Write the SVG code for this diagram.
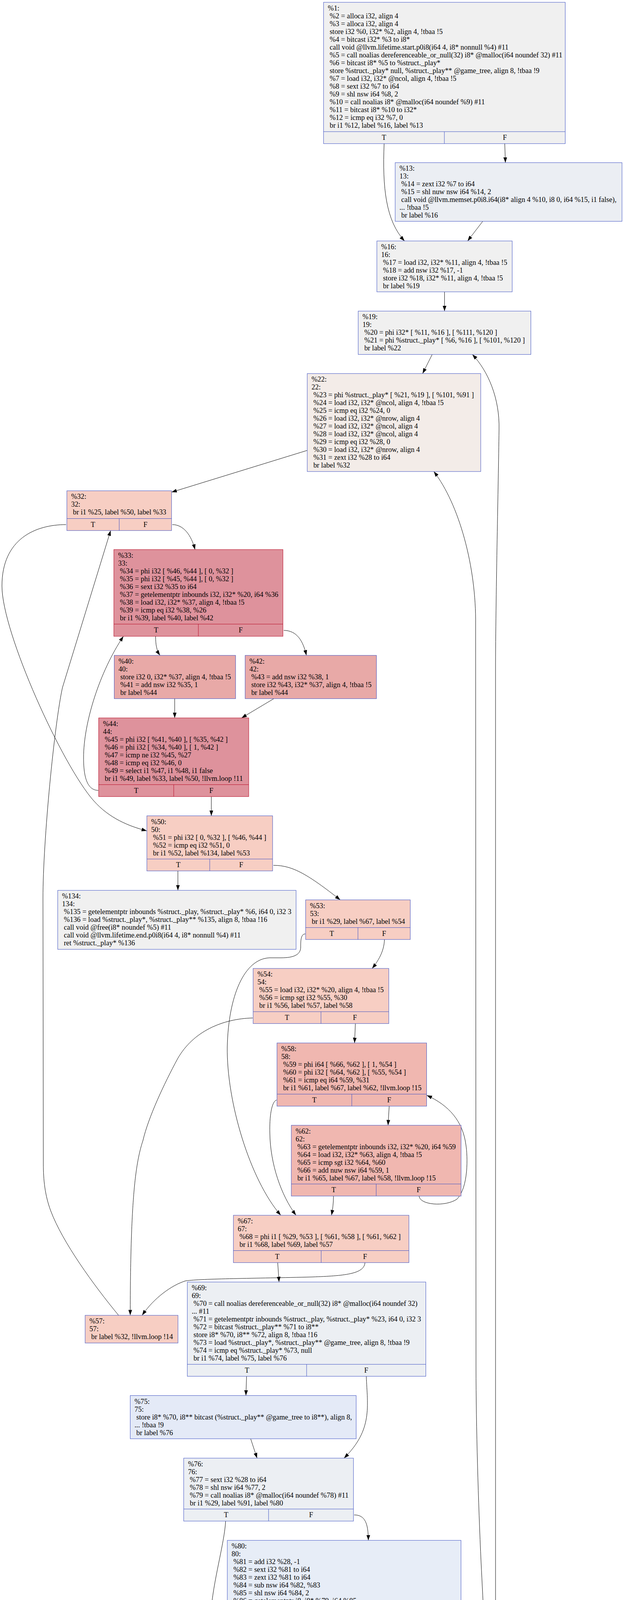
<svg xmlns="http://www.w3.org/2000/svg" width="1598" height="6364" viewBox="0 0 1598 6364">
<style>
text{font-family:"Liberation Serif","Times New Roman",serif;font-size:18.4px;fill:#000}
.c{text-anchor:middle}
.b{stroke:#3d50c3;stroke-width:1;fill:none}
.r{stroke:#b70d28;stroke-width:1;fill:none}
.e{fill:none;stroke:#000;stroke-width:1;marker-end:url(#ah)}
</style>
<defs>
<marker id="ah" markerUnits="userSpaceOnUse" markerWidth="14" markerHeight="10" viewBox="0 0 14 10" refX="13.5" refY="5" orient="auto"><path d="M0,0.3 L13.5,5 L0,9.7 z" fill="#000"/></marker>
</defs>
<rect x="0" y="0" width="1598" height="6364" fill="#fff"/>

<g id="edges">
<path class="e" d="M983.7,368 C979,480 988,565 1036,616.9"/>
<path class="e" d="M1292.6,368 L1294.3,416.4"/>
<path class="e" d="M1236.2,566.6 L1197.5,616.9"/>
<path class="e" d="M1138.4,747.1 L1138.4,796.4"/>
<path class="e" d="M1106.8,907.4 L1082.3,956.3"/>
<path class="e" d="M786.8,1153 L439.3,1260"/>
<path class="e" d="M169.2,1343 C90,1343 5,1380 5,1500 C5,1620 160,1960 240,2050 C280,2095 330,2115 376,2127"/>
<path class="e" d="M441.3,1343 C470,1343 490,1370 499.4,1406.9"/>
<path class="e" d="M398.5,1628.9 C398.5,1650 401,1665 409.7,1677.8"/>
<path class="e" d="M726.7,1613.8 C760,1614 776,1640 784.7,1677.8"/>
<path class="e" d="M447.4,1788.6 L447.4,1837.9"/>
<path class="e" d="M701.2,1788.6 L618.6,1837.9"/>
<path class="e" d="M251.7,2023.4 C228,2023 214,2000 214,1940 C214,1850 255,1720 316,1628.9"/>
<path class="e" d="M541.2,2039.2 L541.2,2088.5"/>
<path class="e" d="M455.6,2229.6 L455.6,2279.3"/>
<path class="e" d="M700.2,2215.3 C750,2215 790,2240 871.4,2303.7"/>
<path class="e" d="M781.7,2390.8 C770,2391 770,2410 770,2425 C770,2445 750,2452 720,2452 L690,2452 C625,2455 585,2550 582,2680 C580,2820 640,3020 719,3111.1"/>
<path class="e" d="M984.5,2405.1 C984,2430 973,2455 952.9,2479.2"/>
<path class="e" d="M647.2,2606 C570,2608 495,2640 455,2710 C420,2775 380,2860 366,2920 C346,2980 334,3080 333.5,3367"/>
<path class="e" d="M910.1,2620.3 L908,2670"/>
<path class="e" d="M708.3,2816 C695,2820 690,2860 691,2900 C692,2980 720,3060 758,3111.1"/>
<path class="e" d="M996.7,2831.8 L993.7,2880.7"/>
<path class="e" d="M854,3061.9 C854,3080 852,3095 849,3111.1"/>
<path class="e" d="M1073.2,3061.9 C1075,3085 1140,3090 1170,3070 C1200,3040 1198,2960 1193,2930 C1185,2870 1150,2830 1093,2804"/>
<path class="e" d="M711.2,3232.3 L714.6,3282"/>
<path class="e" d="M934.6,3232.3 C933,3262 880,3266 800,3269 C650,3273 520,3273 475,3279 C440,3290 395,3322 364,3367"/>
<path class="e" d="M303.5,3367 C240,3290 160,3180 130,3100 C115,3060 111,3020 111,2980 L110,2300 C110,2150 140,1850 160,1760 L283.3,1358.2"/>
<path class="e" d="M631.5,3523.3 L629.7,3572.6"/>
<path class="e" d="M938,3523.3 C941,3600 955,3660 881,3732.9"/>
<path class="e" d="M641.9,3683.2 L658.3,3732.9"/>
<path class="e" d="M577.8,3894 C575,3950 545,4050 540,4130 C537,4200 560,4260 593.4,4303.1"/>
<path class="e" d="M906.9,3878.2 C935,3878 943,3900 943.3,3943.3"/>
<path class="e" d="M883.5,4253.8 L883.5,4303.1"/>
<path class="e" d="M732.8,4744.7 L732.8,4793.6"/>
<path class="e" d="M1199.6,4729 C1225,4722 1236,4690 1240,4650 C1247,4560 1250,4450 1248,4380 C1245,4250 1237,4100 1232,4000 C1225,3850 1219,3650 1219,3500 L1218,1600 C1220,1450 1175,1290 1111,1207.1"/>
<path class="e" d="M625.4,5075.4 C624,5150 600,5300 598,5400 C596,5500 630,5600 684.3,5655.1"/>
<path class="e" d="M851.5,5075.4 C852,5095 854,5110 857,5124.7"/>
<path class="e" d="M880.9,5215 L885.2,5264.7"/>
<path class="e" d="M783,5465.7 L783.9,5515.2"/>
<path class="e" d="M1043.7,5465.7 C1060,5485 1110,5495 1135,5470 C1155,5440 1150,5390 1130,5358"/>
<path class="e" d="M788.2,5606.1 L788.2,5655.1"/>
<path class="e" d="M697.3,5796.2 C697,5900 675,6000 675,6060 C675,6150 720,6210 768.3,6256.8"/>
<path class="e" d="M878.3,5796.2 C878.3,5815 880,5830 887.8,5845.7"/>
<path class="e" d="M933.7,5956.8 L944.1,6005.7"/>
<path class="e" d="M850.6,6207.2 L850.6,6256.8"/>
<path class="e" d="M1114.8,6207.2 C1135,6228 1190,6232 1212,6200 C1228,6170 1220,6130 1197.1,6103.2"/>
<path class="e" d="M970.1,6279.5 C1070,6265 1190,6240 1255,6170 C1290,6120 1285,6040 1280,5980 C1275,5900 1269,5850 1269,5800 L1269,1700 C1270,1500 1276,1250 1278,1100 C1280,1020 1250,950 1209.7,907.4"/>
</g>

<g id="n1">
<rect class="b" x="828.6" y="5.9" width="618.9" height="361.8" style="fill:#f0f0f0"/>
<path class="b" d="M828.6,337 H1447.5 M1138,337 V367.7"/>
<text><tspan x="839.6" y="26.9">%1:</tspan><tspan x="844.2" y="46.9">%2 = alloca i32, align 4</tspan><tspan x="844.2" y="66.9">%3 = alloca i32, align 4</tspan><tspan x="844.2" y="86.9">store i32 %0, i32* %2, align 4, !tbaa !5</tspan><tspan x="844.2" y="106.9">%4 = bitcast i32* %3 to i8*</tspan><tspan x="844.2" y="126.9">call void @llvm.lifetime.start.p0i8(i64 4, i8* nonnull %4) #11</tspan><tspan x="844.2" y="146.9">%5 = call noalias dereferenceable_or_null(32) i8* @malloc(i64 noundef 32) #11</tspan><tspan x="844.2" y="166.9">%6 = bitcast i8* %5 to %struct._play*</tspan><tspan x="844.2" y="186.9">store %struct._play* null, %struct._play** @game_tree, align 8, !tbaa !9</tspan><tspan x="844.2" y="206.9">%7 = load i32, i32* @ncol, align 4, !tbaa !5</tspan><tspan x="844.2" y="226.9">%8 = sext i32 %7 to i64</tspan><tspan x="844.2" y="246.9">%9 = shl nsw i64 %8, 2</tspan><tspan x="844.2" y="266.9">%10 = call noalias i8* @malloc(i64 noundef %9) #11</tspan><tspan x="844.2" y="286.9">%11 = bitcast i8* %10 to i32*</tspan><tspan x="844.2" y="306.9">%12 = icmp eq i32 %7, 0</tspan><tspan x="844.2" y="326.9">br i1 %12, label %16, label %13</tspan></text>
<text class="c" x="983.3" y="358">T</text><text class="c" x="1292.8" y="358">F</text>
</g>

<g id="n13">
<rect class="b" x="1012" y="416.4" width="580.9" height="150.2" style="fill:#ebeef3"/>
<text><tspan x="1023" y="437.4">%13:</tspan><tspan x="1023" y="457.4">13:</tspan><tspan x="1027.6" y="477.4">%14 = zext i32 %7 to i64</tspan><tspan x="1027.6" y="497.4">%15 = shl nuw nsw i64 %14, 2</tspan><tspan x="1027.6" y="517.4">call void @llvm.memset.p0i8.i64(i8* align 4 %10, i8 0, i64 %15, i1 false),</tspan><tspan x="1023" y="537.4">... !tbaa !5</tspan><tspan x="1027.6" y="557.4">br label %16</tspan></text>
</g>

<g id="n16">
<rect class="b" x="965.1" y="616.9" width="346.6" height="130.2" style="fill:#f0f0f0"/>
<text><tspan x="976.1" y="637.9">%16:</tspan><tspan x="976.1" y="657.9">16:</tspan><tspan x="980.7" y="677.9">%17 = load i32, i32* %11, align 4, !tbaa !5</tspan><tspan x="980.7" y="697.9">%18 = add nsw i32 %17, -1</tspan><tspan x="980.7" y="717.9">store i32 %18, i32* %11, align 4, !tbaa !5</tspan><tspan x="980.7" y="737.9">br label %19</tspan></text>
</g>

<g id="n19">
<rect class="b" x="917.3" y="796.4" width="442.2" height="111" style="fill:#f0f0f0"/>
<text><tspan x="928.3" y="817.4">%19:</tspan><tspan x="928.3" y="837.4">19:</tspan><tspan x="932.9" y="857.4">%20 = phi i32* [ %11, %16 ], [ %111, %120 ]</tspan><tspan x="932.9" y="877.4">%21 = phi %struct._play* [ %6, %16 ], [ %101, %120 ]</tspan><tspan x="932.9" y="897.4">br label %22</tspan></text>
</g>

<g id="n22">
<rect class="b" x="786.8" y="956.3" width="444.3" height="250.8" style="fill:#f3ece8"/>
<text><tspan x="797.8" y="977.3">%22:</tspan><tspan x="797.8" y="997.3">22:</tspan><tspan x="802.4" y="1017.3">%23 = phi %struct._play* [ %21, %19 ], [ %101, %91 ]</tspan><tspan x="802.4" y="1037.3">%24 = load i32, i32* @ncol, align 4, !tbaa !5</tspan><tspan x="802.4" y="1057.3">%25 = icmp eq i32 %24, 0</tspan><tspan x="802.4" y="1077.3">%26 = load i32, i32* @nrow, align 4</tspan><tspan x="802.4" y="1097.3">%27 = load i32, i32* @ncol, align 4</tspan><tspan x="802.4" y="1117.3">%28 = load i32, i32* @ncol, align 4</tspan><tspan x="802.4" y="1137.3">%29 = icmp eq i32 %28, 0</tspan><tspan x="802.4" y="1157.3">%30 = load i32, i32* @nrow, align 4</tspan><tspan x="802.4" y="1177.3">%31 = zext i32 %28 to i64</tspan><tspan x="802.4" y="1197.3">br label %32</tspan></text>
</g>

<g id="n32">
<rect class="b" x="171.2" y="1256.4" width="268.1" height="101.8" style="fill:#f7cec3"/>
<path class="b" d="M171.2,1327.5 H439.3 M305.3,1327.5 V1358.2"/>
<text><tspan x="182.2" y="1277.4">%32:</tspan><tspan x="182.2" y="1297.4">32:</tspan><tspan x="186.8" y="1317.4">br i1 %25, label %50, label %33</tspan></text>
<text class="c" x="238.2" y="1348.5">T</text><text class="c" x="372.3" y="1348.5">F</text>
</g>

<g id="n33">
<rect class="r" x="291.5" y="1406.9" width="433.1" height="222" style="fill:#de929c"/>
<path class="r" d="M291.5,1597.7 H724.6 M508,1597.7 V1628.9"/>
<text><tspan x="302.5" y="1427.9">%33:</tspan><tspan x="302.5" y="1447.9">33:</tspan><tspan x="307.1" y="1467.9">%34 = phi i32 [ %46, %44 ], [ 0, %32 ]</tspan><tspan x="307.1" y="1487.9">%35 = phi i32 [ %45, %44 ], [ 0, %32 ]</tspan><tspan x="307.1" y="1507.9">%36 = sext i32 %35 to i64</tspan><tspan x="307.1" y="1527.9">%37 = getelementptr inbounds i32, i32* %20, i64 %36</tspan><tspan x="307.1" y="1547.9">%38 = load i32, i32* %37, align 4, !tbaa !5</tspan><tspan x="307.1" y="1567.9">%39 = icmp eq i32 %38, %26</tspan><tspan x="307.1" y="1587.9">br i1 %39, label %40, label %42</tspan></text>
<text class="c" x="399.8" y="1618.7">T</text><text class="c" x="616.3" y="1618.7">F</text>
</g>

<g id="n40">
<rect class="b" x="292.5" y="1677.8" width="310.8" height="110.8" style="fill:#e8a9a7"/>
<text><tspan x="303.5" y="1698.8">%40:</tspan><tspan x="303.5" y="1718.8">40:</tspan><tspan x="308.1" y="1738.8">store i32 0, i32* %37, align 4, !tbaa !5</tspan><tspan x="308.1" y="1758.8">%41 = add nsw i32 %35, 1</tspan><tspan x="308.1" y="1778.8">br label %44</tspan></text>
</g>

<g id="n42">
<rect class="b" x="627.8" y="1677.8" width="336.3" height="110.8" style="fill:#e8a9a7"/>
<text><tspan x="638.8" y="1698.8">%42:</tspan><tspan x="638.8" y="1718.8">42:</tspan><tspan x="643.4" y="1738.8">%43 = add nsw i32 %38, 1</tspan><tspan x="643.4" y="1758.8">store i32 %43, i32* %37, align 4, !tbaa !5</tspan><tspan x="643.4" y="1778.8">br label %44</tspan></text>
</g>

<g id="n44">
<rect class="r" x="252.7" y="1837.9" width="384.3" height="201.3" style="fill:#de929c"/>
<path class="r" d="M252.7,2008.7 H637 M444.9,2008.7 V2039.2"/>
<text><tspan x="263.7" y="1858.9">%44:</tspan><tspan x="263.7" y="1878.9">44:</tspan><tspan x="268.3" y="1898.9">%45 = phi i32 [ %41, %40 ], [ %35, %42 ]</tspan><tspan x="268.3" y="1918.9">%46 = phi i32 [ %34, %40 ], [ 1, %42 ]</tspan><tspan x="268.3" y="1938.9">%47 = icmp ne i32 %45, %27</tspan><tspan x="268.3" y="1958.9">%48 = icmp eq i32 %46, 0</tspan><tspan x="268.3" y="1978.9">%49 = select i1 %47, i1 %48, i1 false</tspan><tspan x="268.3" y="1998.9">br i1 %49, label %33, label %50, !llvm.loop !11</tspan></text>
<text class="c" x="348.8" y="2029.7">T</text><text class="c" x="541" y="2029.7">F</text>
</g>

<g id="n50">
<rect class="b" x="376.1" y="2088.5" width="322" height="141.1" style="fill:#f7cec3"/>
<path class="b" d="M376.1,2199.1 H698.1 M537.1,2199.1 V2229.6"/>
<text><tspan x="387.1" y="2109.5">%50:</tspan><tspan x="387.1" y="2129.5">50:</tspan><tspan x="391.7" y="2149.5">%51 = phi i32 [ 0, %32 ], [ %46, %44 ]</tspan><tspan x="391.7" y="2169.5">%52 = icmp eq i32 %51, 0</tspan><tspan x="391.7" y="2189.5">br i1 %52, label %134, label %53</tspan></text>
<text class="c" x="456.6" y="2220.1">T</text><text class="c" x="617.6" y="2220.1">F</text>
</g>

<g id="n134">
<rect class="b" x="147.8" y="2279.3" width="610.4" height="151" style="fill:#f0f0f0"/>
<text><tspan x="158.8" y="2300.3">%134:</tspan><tspan x="158.8" y="2320.3">134:</tspan><tspan x="163.4" y="2340.3">%135 = getelementptr inbounds %struct._play, %struct._play* %6, i64 0, i32 3</tspan><tspan x="163.4" y="2360.3">%136 = load %struct._play*, %struct._play** %135, align 8, !tbaa !16</tspan><tspan x="163.4" y="2380.3">call void @free(i8* noundef %5) #11</tspan><tspan x="163.4" y="2400.3">call void @llvm.lifetime.end.p0i8(i64 4, i8* nonnull %4) #11</tspan><tspan x="163.4" y="2420.3">ret %struct._play* %136</tspan></text>
</g>

<g id="n53">
<rect class="b" x="782.7" y="2303.7" width="268" height="101.4" style="fill:#f7cec3"/>
<path class="b" d="M782.7,2374.6 H1050.7 M916.7,2374.6 V2405.1"/>
<text><tspan x="793.7" y="2324.7">%53:</tspan><tspan x="793.7" y="2344.7">53:</tspan><tspan x="798.3" y="2364.7">br i1 %29, label %67, label %54</tspan></text>
<text class="c" x="849.7" y="2395.6">T</text><text class="c" x="983.7" y="2395.6">F</text>
</g>

<g id="n54">
<rect class="b" x="648.2" y="2479.2" width="347.5" height="141.1" style="fill:#f7cec3"/>
<path class="b" d="M648.2,2589.9 H995.7 M822,2589.9 V2620.3"/>
<text><tspan x="659.2" y="2500.2">%54:</tspan><tspan x="659.2" y="2520.2">54:</tspan><tspan x="663.8" y="2540.2">%55 = load i32, i32* %20, align 4, !tbaa !5</tspan><tspan x="663.8" y="2560.2">%56 = icmp sgt i32 %55, %30</tspan><tspan x="663.8" y="2580.2">br i1 %56, label %57, label %58</tspan></text>
<text class="c" x="735.1" y="2610.9">T</text><text class="c" x="908.9" y="2610.9">F</text>
</g>

<g id="n58">
<rect class="b" x="709.3" y="2670" width="383.2" height="161.8" style="fill:#f0b7b0"/>
<path class="b" d="M709.3,2801 H1092.5 M900.9,2801 V2831.8"/>
<text><tspan x="720.3" y="2691">%58:</tspan><tspan x="720.3" y="2711">58:</tspan><tspan x="724.9" y="2731">%59 = phi i64 [ %66, %62 ], [ 1, %54 ]</tspan><tspan x="724.9" y="2751">%60 = phi i32 [ %64, %62 ], [ %55, %54 ]</tspan><tspan x="724.9" y="2771">%61 = icmp eq i64 %59, %31</tspan><tspan x="724.9" y="2791">br i1 %61, label %67, label %62, !llvm.loop !15</tspan></text>
<text class="c" x="805.1" y="2822">T</text><text class="c" x="996.7" y="2822">F</text>
</g>

<g id="n62">
<rect class="b" x="746" y="2880.7" width="434.8" height="181.2" style="fill:#f0b7b0"/>
<path class="b" d="M746,3031 H1180.8 M963.4,3031 V3061.9"/>
<text><tspan x="757" y="2901.7">%62:</tspan><tspan x="757" y="2921.7">62:</tspan><tspan x="761.6" y="2941.7">%63 = getelementptr inbounds i32, i32* %20, i64 %59</tspan><tspan x="761.6" y="2961.7">%64 = load i32, i32* %63, align 4, !tbaa !5</tspan><tspan x="761.6" y="2981.7">%65 = icmp sgt i32 %64, %60</tspan><tspan x="761.6" y="3001.7">%66 = add nuw nsw i64 %59, 1</tspan><tspan x="761.6" y="3021.7">br i1 %65, label %67, label %58, !llvm.loop !15</tspan></text>
<text class="c" x="854.7" y="3052">T</text><text class="c" x="1072.1" y="3052">F</text>
</g>

<g id="n67">
<rect class="b" x="597.7" y="3111.1" width="449.5" height="121.2" style="fill:#f7cec3"/>
<path class="b" d="M597.7,3201.5 H1047.2 M822.5,3201.5 V3232.3"/>
<text><tspan x="608.7" y="3132.1">%67:</tspan><tspan x="608.7" y="3152.1">67:</tspan><tspan x="613.3" y="3172.1">%68 = phi i1 [ %29, %53 ], [ %61, %58 ], [ %61, %62 ]</tspan><tspan x="613.3" y="3192.1">br i1 %68, label %69, label %57</tspan></text>
<text class="c" x="710.1" y="3222.5">T</text><text class="c" x="934.9" y="3222.5">F</text>
</g>

<g id="n57">
<rect class="b" x="218" y="3367.2" width="237.8" height="70.9" style="fill:#f7cec3"/>
<text><tspan x="229" y="3388.2">%57:</tspan><tspan x="229" y="3408.2">57:</tspan><tspan x="233.6" y="3428.2">br label %32, !llvm.loop !14</tspan></text>
</g>

<g id="n69">
<rect class="b" x="479.7" y="3282" width="610.8" height="241.3" style="fill:#eceff3"/>
<path class="b" d="M479.7,3492.7 H1090.5 M785.2,3492.7 V3523.3"/>
<text><tspan x="490.9" y="3303">%69:</tspan><tspan x="490.9" y="3323">69:</tspan><tspan x="495.5" y="3343">%70 = call noalias dereferenceable_or_null(32) i8* @malloc(i64 noundef 32)</tspan><tspan x="490.9" y="3363">... #11</tspan><tspan x="495.5" y="3383">%71 = getelementptr inbounds %struct._play, %struct._play* %23, i64 0, i32 3</tspan><tspan x="495.5" y="3403">%72 = bitcast %struct._play** %71 to i8**</tspan><tspan x="495.5" y="3423">store i8* %70, i8** %72, align 8, !tbaa !16</tspan><tspan x="495.5" y="3443">%73 = load %struct._play*, %struct._play** @game_tree, align 8, !tbaa !9</tspan><tspan x="495.5" y="3463">%74 = icmp eq %struct._play* %73, null</tspan><tspan x="495.5" y="3483">br i1 %74, label %75, label %76</tspan></text>
<text class="c" x="632.6" y="3513.7">T</text><text class="c" x="937.9" y="3513.7">F</text>
</g>

<g id="n75">
<rect class="b" x="333.5" y="3572.6" width="578.6" height="110.6" style="fill:#e4eaf7"/>
<text><tspan x="344.5" y="3593.6">%75:</tspan><tspan x="344.5" y="3613.6">75:</tspan><tspan x="349.1" y="3633.6">store i8* %70, i8** bitcast (%struct._play** @game_tree to i8**), align 8,</tspan><tspan x="344.5" y="3653.6">... !tbaa !9</tspan><tspan x="349.1" y="3673.6">br label %76</tspan></text>
</g>

<g id="n76">
<rect class="b" x="470.4" y="3732.9" width="434.8" height="161.1" style="fill:#eceff3"/>
<path class="b" d="M470.4,3863.1 H905.2 M687.8,3863.1 V3894"/>
<text><tspan x="481.4" y="3753.9">%76:</tspan><tspan x="481.4" y="3773.9">76:</tspan><tspan x="486" y="3793.9">%77 = sext i32 %28 to i64</tspan><tspan x="486" y="3813.9">%78 = shl nsw i64 %77, 2</tspan><tspan x="486" y="3833.9">%79 = call noalias i8* @malloc(i64 noundef %78) #11</tspan><tspan x="486" y="3853.9">br i1 %29, label %91, label %80</tspan></text>
<text class="c" x="579.1" y="3884.1">T</text><text class="c" x="796.5" y="3884.1">F</text>
</g>

<g id="n80">
<rect class="b" x="582.1" y="3943.3" width="598.5" height="310.5" style="fill:#e7edf7"/>
<text><tspan x="593.1" y="3964.3">%80:</tspan><tspan x="593.1" y="3984.3">80:</tspan><tspan x="597.7" y="4004.3">%81 = add i32 %28, -1</tspan><tspan x="597.7" y="4024.3">%82 = sext i32 %81 to i64</tspan><tspan x="597.7" y="4044.3">%83 = zext i32 %81 to i64</tspan><tspan x="597.7" y="4064.3">%84 = sub nsw i64 %82, %83</tspan><tspan x="597.7" y="4084.3">%85 = shl nsw i64 %84, 2</tspan><tspan x="597.7" y="4104.3">%86 = getelementptr i8, i8* %79, i64 %85</tspan><tspan x="597.7" y="4124.3">%87 = getelementptr i32, i32* %20, i64 %84</tspan><tspan x="597.7" y="4144.3">%88 = bitcast i32* %87 to i8*</tspan><tspan x="597.7" y="4164.3">%89 = zext i32 %28 to i64</tspan><tspan x="597.7" y="4184.3">%90 = shl nuw nsw i64 %89, 2</tspan><tspan x="597.7" y="4204.3">call void @llvm.memcpy.p0i8.p0i8.i64(i8* align 4 %86, i8* align 4 %88, i64</tspan><tspan x="593.1" y="4224.3">... %90, i1 false) #11, !tbaa !5</tspan><tspan x="597.7" y="4244.3">br label %91</tspan></text>
</g>

<g id="n91">
<rect class="b" x="577.8" y="4303.1" width="620.1" height="441.6" style="fill:#ebeef2"/>
<path class="b" d="M577.8,4713.8 H1197.9 M887.9,4713.8 V4744.7"/>
<text><tspan x="588.8" y="4324.1">%91:</tspan><tspan x="588.8" y="4344.1">91:</tspan><tspan x="593.4" y="4364.1">%92 = load %struct._play*, %struct._play** %71, align 8, !tbaa !16</tspan><tspan x="593.4" y="4384.1">%93 = getelementptr inbounds %struct._play, %struct._play* %92, i64 0, i32 1</tspan><tspan x="593.4" y="4404.1">%94 = bitcast i32** %93 to i8**</tspan><tspan x="593.4" y="4424.1">store i8* %79, i8** %94, align 8, !tbaa !18</tspan><tspan x="593.4" y="4444.1">%95 = call %struct._list* @make_list(i32* noundef %20, i32* noundef nonnull</tspan><tspan x="588.8" y="4464.1">... %3, i32* noundef nonnull %2)</tspan><tspan x="593.4" y="4484.1">%96 = load %struct._play*, %struct._play** %71, align 8, !tbaa !16</tspan><tspan x="593.4" y="4504.1">%97 = getelementptr inbounds %struct._play, %struct._play* %96, i64 0, i32 2</tspan><tspan x="593.4" y="4524.1">store %struct._list* %95, %struct._list** %97, align 8, !tbaa !19</tspan><tspan x="593.4" y="4544.1">%98 = load i32, i32* %3, align 4, !tbaa !5</tspan><tspan x="593.4" y="4564.1">%99 = getelementptr inbounds %struct._play, %struct._play* %96, i64 0, i32 0</tspan><tspan x="593.4" y="4584.1">store i32 %98, i32* %99, align 8, !tbaa !20</tspan><tspan x="593.4" y="4604.1">%100 = getelementptr inbounds %struct._play, %struct._play* %96, i64 0, i32 3</tspan><tspan x="593.4" y="4624.1">store %struct._play* null, %struct._play** %100, align 8, !tbaa !16</tspan><tspan x="593.4" y="4644.1">%101 = load %struct._play*, %struct._play** %71, align 8, !tbaa !16</tspan><tspan x="593.4" y="4664.1">%102 = load i32, i32* %2, align 4, !tbaa !5</tspan><tspan x="593.4" y="4684.1">%103 = icmp eq i32 %102, 2</tspan><tspan x="593.4" y="4704.1">br i1 %103, label %104, label %22, !llvm.loop !14</tspan></text>
<text class="c" x="732.8" y="4734.8">T</text><text class="c" x="1042.9" y="4734.8">F</text>
</g>

<g id="n104">
<rect class="b" x="512.8" y="4793.6" width="451.3" height="281.8" style="fill:#c6d6fb"/>
<path class="b" d="M512.8,5044.9 H964.1 M738.5,5044.9 V5075.4"/>
<text><tspan x="523.8" y="4814.6">%104:</tspan><tspan x="523.8" y="4834.6">104:</tspan><tspan x="528.4" y="4854.6">%105 = bitcast i32* %20 to i8*</tspan><tspan x="528.4" y="4874.6">call void @free(i8* noundef %105) #11</tspan><tspan x="528.4" y="4894.6">%106 = load i32, i32* @nrow, align 4, !tbaa !5</tspan><tspan x="528.4" y="4914.6">%107 = load i32, i32* @ncol, align 4, !tbaa !5</tspan><tspan x="528.4" y="4934.6">%108 = sext i32 %107 to i64</tspan><tspan x="528.4" y="4954.6">%109 = shl nsw i64 %108, 2</tspan><tspan x="528.4" y="4974.6">%110 = call noalias i8* @malloc(i64 noundef %109) #11</tspan><tspan x="528.4" y="4994.6">%111 = bitcast i8* %110 to i32*</tspan><tspan x="528.4" y="5014.6">%112 = icmp eq i32 %107, 0</tspan><tspan x="528.4" y="5034.6">br i1 %112, label %117, label %113</tspan></text>
<text class="c" x="625.6" y="5065.9">T</text><text class="c" x="851.3" y="5065.9">F</text>
</g>

<g id="n113">
<rect class="b" x="752.7" y="5124.7" width="243.4" height="90.3" style="fill:#c1d2f8"/>
<text><tspan x="763.7" y="5145.7">%113:</tspan><tspan x="763.7" y="5165.7">113:</tspan><tspan x="768.3" y="5185.7">%114 = zext i32 %107 to i64</tspan><tspan x="768.3" y="5205.7">br label %124</tspan></text>
</g>

<g id="n124">
<rect class="b" x="667.9" y="5264.7" width="461.6" height="201" style="fill:#e7edf7"/>
<path class="b" d="M667.9,5435.2 H1129.5 M898.7,5435.2 V5465.7"/>
<text><tspan x="678.9" y="5285.7">%124:</tspan><tspan x="678.9" y="5305.7">124:</tspan><tspan x="683.5" y="5325.7">%125 = phi i64 [ 0, %113 ], [ %127, %124 ]</tspan><tspan x="683.5" y="5345.7">%126 = getelementptr inbounds i32, i32* %111, i64 %125</tspan><tspan x="683.5" y="5365.7">store i32 %106, i32* %126, align 4, !tbaa !5</tspan><tspan x="683.5" y="5385.7">%127 = add nuw nsw i64 %125, 1</tspan><tspan x="683.5" y="5405.7">%128 = icmp eq i64 %127, %114</tspan><tspan x="683.5" y="5425.7">br i1 %128, label %115, label %124, !llvm.loop !21</tspan></text>
<text class="c" x="783.3" y="5456.2">T</text><text class="c" x="1014.1" y="5456.2">F</text>
</g>

<g id="n115">
<rect class="b" x="662.7" y="5515.2" width="250.3" height="90.9" style="fill:#c1d2f8"/>
<text><tspan x="673.7" y="5536.2">%115:</tspan><tspan x="673.7" y="5556.2">115:</tspan><tspan x="678.3" y="5576.2">%116 = trunc i64 %127 to i32</tspan><tspan x="678.3" y="5596.2">br label %117</tspan></text>
</g>

<g id="n117">
<rect class="b" x="609" y="5655.1" width="357.7" height="141.1" style="fill:#c6d6fb"/>
<path class="b" d="M609,5765.6 H966.7 M787.9,5765.6 V5796.2"/>
<text><tspan x="620" y="5676.1">%117:</tspan><tspan x="620" y="5696.1">117:</tspan><tspan x="624.6" y="5716.1">%118 = phi i32 [ 0, %104 ], [ %116, %115 ]</tspan><tspan x="624.6" y="5736.1">%119 = icmp eq i32 %118, %107</tspan><tspan x="624.6" y="5756.1">br i1 %119, label %120, label %121</tspan></text>
<text class="c" x="698.4" y="5786.6">T</text><text class="c" x="877.3" y="5786.6">F</text>
</g>

<g id="n121">
<rect class="b" x="801.2" y="5845.7" width="242.5" height="111.1" style="fill:#c1d2f8"/>
<text><tspan x="812.2" y="5866.7">%121:</tspan><tspan x="812.2" y="5886.7">121:</tspan><tspan x="816.8" y="5906.7">%122 = zext i32 %118 to i64</tspan><tspan x="816.8" y="5926.7">%123 = zext i32 %107 to i64</tspan><tspan x="816.8" y="5946.7">br label %129</tspan></text>
</g>

<g id="n129">
<rect class="b" x="736.3" y="6005.7" width="460.8" height="201.5" style="fill:#e4ebf8"/>
<path class="b" d="M736.3,6176.6 H1197.1 M966.7,6176.6 V6207.2"/>
<text><tspan x="747.3" y="6026.7">%129:</tspan><tspan x="747.3" y="6046.7">129:</tspan><tspan x="751.9" y="6066.7">%130 = phi i64 [ %122, %121 ], [ %132, %129 ]</tspan><tspan x="751.9" y="6086.7">%131 = getelementptr inbounds i32, i32* %111, i64 %130</tspan><tspan x="751.9" y="6106.7">store i32 %106, i32* %131, align 4, !tbaa !5</tspan><tspan x="751.9" y="6126.7">%132 = add nuw nsw i64 %130, 1</tspan><tspan x="751.9" y="6146.7">%133 = icmp eq i64 %132, %123</tspan><tspan x="751.9" y="6166.7">br i1 %133, label %120, label %129, !llvm.loop !14</tspan></text>
<text class="c" x="851.5" y="6197.6">T</text><text class="c" x="1081.9" y="6197.6">F</text>
</g>

<g id="n120">
<rect class="b" x="732" y="6256.8" width="237.3" height="70.5" style="fill:#c6d6fb"/>
<text><tspan x="743" y="6277.8">%120:</tspan><tspan x="743" y="6297.8">120:</tspan><tspan x="747.6" y="6317.8">br label %19, !llvm.loop !14</tspan></text>
</g>

<text class="c" x="799" y="6348.5">CFG for 'make_play' function</text>
</svg>
